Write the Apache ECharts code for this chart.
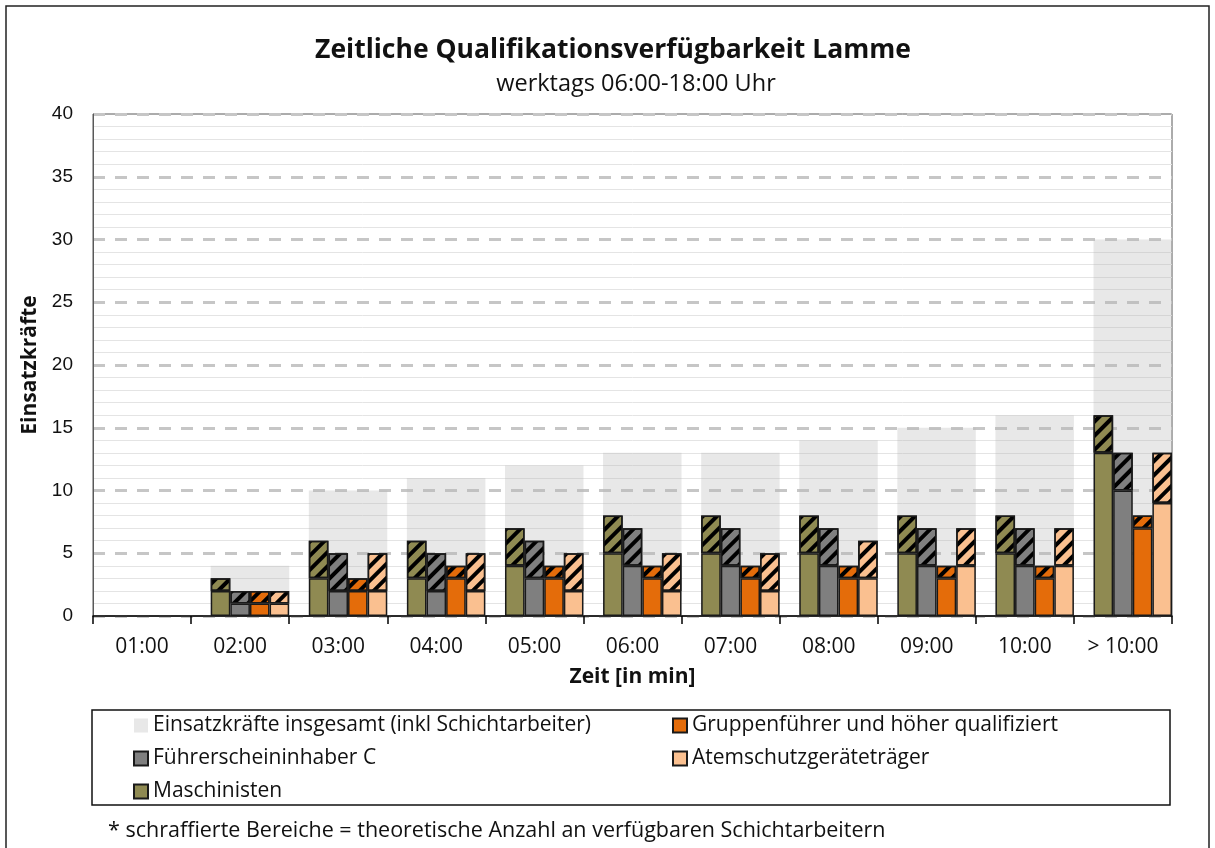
<!DOCTYPE html>
<html>
<head>
<meta charset="utf-8">
<script src="https://cdn.jsdelivr.net/npm/echarts@6/dist/echarts.min.js"></script>
<style>
  html, body { margin: 0; padding: 0; background: #fff; }
  #chart { width: 1215px; height: 848px; }
</style>
</head>
<body>
<div id="chart"></div>
<script>
// Zeitkategorien (Ausrückezeit)
const categories = ['01:00', '02:00', '03:00', '04:00', '05:00', '06:00', '07:00', '08:00', '09:00', '10:00', '> 10:00'];
const yTicks = [0, 5, 10, 15, 20, 25, 30, 35, 40];

// Einsatzkräfte insgesamt (inkl. Schichtarbeiter)
const totalForces = [0, 4, 10, 11, 12, 13, 13, 14, 15, 16, 30];

// Qualifikationen: fester Anteil und Schichtarbeiter-Anteil (schraffiert)
const maschinisten = [0, 2, 3, 3, 4, 5, 5, 5, 5, 5, 13];
const maschinistenShift = [0, 1, 3, 3, 3, 3, 3, 3, 3, 3, 3];
const fuehrerschein = [0, 1, 2, 2, 3, 4, 4, 4, 4, 4, 10];
const fuehrerscheinShift = [0, 1, 3, 3, 3, 3, 3, 3, 3, 3, 3];
const gruppenfuehrer = [0, 1, 2, 3, 3, 3, 3, 3, 3, 3, 7];
const gruppenfuehrerShift = [0, 1, 1, 1, 1, 1, 1, 1, 1, 1, 1];
const atemschutz = [0, 1, 2, 2, 2, 2, 2, 3, 4, 4, 9];
const atemschutzShift = [0, 1, 3, 3, 3, 3, 3, 3, 3, 3, 4];

const NAME_TOTAL = 'Einsatzkräfte insgesamt (inkl Schichtarbeiter)';
const NAME_GF = 'Gruppenführer und höher qualifiziert';
const NAME_FS = 'Führerscheininhaber C';
const NAME_AS = 'Atemschutzgeräteträger';
const NAME_MA = 'Maschinisten';

const FONT = '"Open Sans", "DejaVu Sans", sans-serif';
const nz = arr => arr.map(v => (v === 0 ? null : v));

// Schraffur für den Schichtarbeiter-Anteil
const hatch = {
  symbol: 'rect',
  symbolSize: 1,
  dashArrayX: [1, 0],
  dashArrayY: [3.5, 6],
  rotation: -Math.PI / 4,
  color: '#000'
};

const edge = { borderColor: '#1a1a1a', borderWidth: 1.5 };

function qualSeries(name, stack, color, base, shift) {
  return [
    {
      name: name, type: 'bar', stack: stack, xAxisIndex: 0, z: 3,
      barGap: '0%', barCategoryGap: '0%',
      data: nz(base),
      itemStyle: Object.assign({ color: color }, edge)
    },
    {
      name: name + ' *', type: 'bar', stack: stack, xAxisIndex: 0, z: 3,
      barGap: '0%', barCategoryGap: '0%',
      data: nz(shift),
      itemStyle: Object.assign({ color: color, decal: hatch }, edge)
    }
  ];
}

const chart = echarts.init(document.getElementById('chart'), null, { renderer: 'canvas' });

const legendText = { fontSize: 21, fontFamily: FONT, color: '#111' };

chart.setOption({
  animation: false,
  backgroundColor: '#fff',
  title: [
    {
      text: 'Zeitliche Qualifikationsverfügbarkeit Lamme',
      left: 608, top: 32, textAlign: 'center',
      textStyle: { fontSize: 26.5, fontWeight: 'bold', fontFamily: FONT, color: '#111' }
    },
    {
      text: 'werktags 06:00-18:00 Uhr',
      left: 631, top: 67, textAlign: 'center',
      textStyle: { fontSize: 23.5, fontWeight: 'normal', fontFamily: FONT, color: '#111' }
    }
  ],
  grid: {
    left: 93, right: 43, top: 114, bottom: 232,
    show: true, borderColor: '#595959', borderWidth: 1, backgroundColor: 'transparent'
  },
  legend: [
    {
      orient: 'vertical', left: 128, top: 710,
      itemWidth: 14, itemHeight: 14, itemGap: 12,
      icon: 'rect', selectedMode: false,
      data: [NAME_TOTAL, NAME_FS, NAME_MA],
      textStyle: legendText
    },
    {
      orient: 'vertical', left: 667, top: 710,
      itemWidth: 14, itemHeight: 14, itemGap: 12,
      icon: 'rect', selectedMode: false,
      data: [NAME_GF, NAME_AS],
      textStyle: legendText
    }
  ],
  xAxis: [
    {
      type: 'category', data: categories, position: 'bottom',
      axisLine: { show: true, lineStyle: { color: '#000', width: 1.5 } },
      axisTick: { show: true, length: 8, lineStyle: { color: '#000', width: 1.5 } },
      axisLabel: { fontSize: 21, fontFamily: FONT, color: '#111', margin: 21 },
      name: 'Zeit [in min]', nameLocation: 'middle', nameGap: 51,
      nameTextStyle: { fontSize: 21, fontWeight: 'bold', fontFamily: FONT, color: '#111' }
    },
    {
      type: 'category', data: categories, position: 'bottom', show: false
    }
  ],
  yAxis: {
    type: 'value', min: yTicks[0], max: yTicks[yTicks.length - 1], interval: 5,
    axisLine: { show: true, lineStyle: { color: '#595959', width: 1 } },
    axisTick: { show: false },
    axisLabel: { fontSize: 19, fontFamily: '"Liberation Sans", Arial, sans-serif', color: '#111', margin: 20 },
    splitLine: { show: true, lineStyle: { color: '#c6c6c6', width: 3, type: [12, 10] } },
    minorTick: { show: false, splitNumber: 5 },
    minorSplitLine: { show: true, lineStyle: { color: '#e4e4e4', width: 1 } },
    name: 'Einsatzkräfte', nameLocation: 'middle', nameGap: 45, nameRotate: 90,
    nameTextStyle: { fontSize: 21, fontWeight: 'bold', fontFamily: FONT, color: '#111' }
  },
  series: [
    // Hintergrund: Gesamtzahl, rechtsbündig in der Kategorie
    {
      type: 'bar', xAxisIndex: 1, barWidth: '20%', barGap: '0%', silent: true,
      data: categories.map(() => null), itemStyle: { color: 'transparent' }
    },
    {
      name: NAME_TOTAL, type: 'bar', xAxisIndex: 1, barWidth: '80%', barGap: '0%', z: 1,
      data: nz(totalForces),
      itemStyle: { color: 'rgba(185,185,185,0.32)', borderWidth: 0 }
    },
    // Leerer Platz links vor der Balkengruppe
    {
      type: 'bar', xAxisIndex: 0, stack: 'pad', barGap: '0%', barCategoryGap: '0%', silent: true,
      data: categories.map(() => null), itemStyle: { color: 'transparent' }
    },
    ...qualSeries(NAME_MA, 'ma', '#8f8a52', maschinisten, maschinistenShift),
    ...qualSeries(NAME_FS, 'fs', '#7f7f7f', fuehrerschein, fuehrerscheinShift),
    ...qualSeries(NAME_GF, 'gf', '#e46c0a', gruppenfuehrer, gruppenfuehrerShift),
    ...qualSeries(NAME_AS, 'as', '#fac090', atemschutz, atemschutzShift)
  ],
  graphic: [
    {
      type: 'rect', silent: true, z: -1,
      shape: { x: 6, y: 6, width: 1203, height: 860 },
      style: { fill: 'none', stroke: '#222', lineWidth: 1.5 }
    },
    {
      type: 'rect', silent: true,
      shape: { x: 92, y: 710, width: 1078, height: 95 },
      style: { fill: 'none', stroke: '#111', lineWidth: 1.5 }
    },
    {
      type: 'text', left: 108, top: 820, silent: true,
      style: {
        text: '* schraffierte Bereiche = theoretische Anzahl an verfügbaren Schichtarbeitern',
        font: '21.5px "Open Sans", sans-serif', fill: '#111'
      }
    }
  ]
});
</script>
</body>
</html>
